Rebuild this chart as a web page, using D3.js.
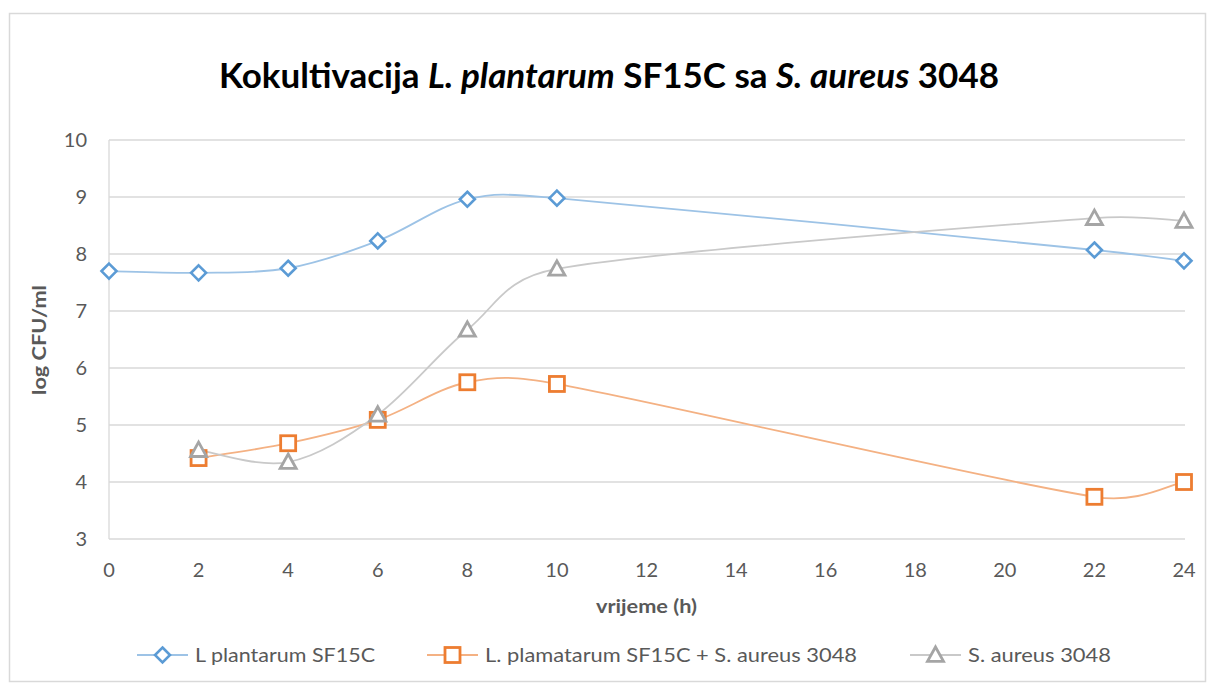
<!DOCTYPE html>
<html><head><meta charset="utf-8">
<script src="https://cdn.jsdelivr.net/npm/d3@7"></script>
<style>body{margin:0;background:#fff;font-family:Lato,"Open Sans",sans-serif;}</style>
</head><body><svg id="c" width="1215" height="687"></svg>
<script>
const hours = [0, 2, 4, 6, 8, 10, 22, 24];
const plantarum = [7.70, 7.67, 7.75, 8.23, 8.96, 8.98, 8.07, 7.88];
const mixed = [null, 4.42, 4.68, 5.09, 5.75, 5.72, 3.74, 4.00];
const aureus = [null, 4.56, 4.35, 5.18, 6.67, 7.74, 8.63, 8.58];
const xTicks = [0,2,4,6,8,10,12,14,16,18,20,22,24];
const yTicks = [3,4,5,6,7,8,9,10];
const seriesNames = ["L plantarum SF15C", "L. plamatarum SF15C + S. aureus 3048", "S. aureus 3048"];

const svg = d3.select("#c");
svg.append("rect").attr("x",9.5).attr("y",13.5).attr("width",1196).attr("height",668)
  .attr("fill","#fff").attr("stroke","#d9d9d9").attr("stroke-width",1.5);

const x = d3.scaleLinear().domain([0,24]).range([109,1184]);
const y = d3.scaleLinear().domain([3,10]).range([539,140]);

// grid
const g = svg.append("g");
g.selectAll("line.grid").data(yTicks).join("line")
  .attr("x1",109).attr("x2",1185).attr("y1",d=>y(d)).attr("y2",d=>y(d))
  .attr("stroke","#d9d9d9").attr("stroke-width",1.3);
g.append("line").attr("x1",109).attr("x2",109).attr("y1",140).attr("y2",539).attr("stroke","#d9d9d9").attr("stroke-width",1.3);

const tickFont = 20;
svg.selectAll("text.yt").data(yTicks).join("text")
  .attr("x",87).attr("y",d=>y(d)+7).attr("text-anchor","end")
  .attr("font-size",tickFont).attr("fill","#595959").text(d=>d);
svg.selectAll("text.xt").data(xTicks).join("text")
  .attr("x",d=>x(d)).attr("y",577).attr("text-anchor","middle")
  .attr("font-size",tickFont).attr("fill","#595959").text(d=>d);

// titles
const t = svg.append("text").attr("x",219).attr("y",88)
  .attr("font-size",34).attr("font-weight","bold").attr("fill","#000")
  .attr("textLength",780).attr("lengthAdjust","spacingAndGlyphs");
t.append("tspan").text("Kokultivacija ");
t.append("tspan").attr("font-style","italic").text("L. plantarum");
t.append("tspan").text(" SF15C sa ");
t.append("tspan").attr("font-style","italic").text("S. aureus");
t.append("tspan").text(" 3048");

svg.append("text").attr("x",596).attr("y",613)
  .attr("font-size",19).attr("font-weight","bold").attr("fill","#595959")
  .attr("textLength",101).attr("lengthAdjust","spacingAndGlyphs").text("vrijeme (h)");
svg.append("text").attr("transform","translate(46,395) rotate(-90)")
  .attr("font-size",19).attr("font-weight","bold").attr("fill","#595959")
  .attr("textLength",110).attr("lengthAdjust","spacingAndGlyphs").text("log CFU/ml");

const series = [
  {name:seriesNames[0], vals:plantarum, line:"#9dc3e6", mark:"#5b9bd5", sym:"diamond"},
  {name:seriesNames[1], vals:mixed, line:"#f4b183", mark:"#ed7d31", sym:"square"},
  {name:seriesNames[2], vals:aureus, line:"#c9c9c9", mark:"#a5a5a5", sym:"triangle"}
];

function marker(sel, sym, color, cx, cy){
  if(sym==="diamond"){
    const r=7.5;
    sel.append("path").attr("d",`M${cx},${cy-r}L${cx+r},${cy}L${cx},${cy+r}L${cx-r},${cy}Z`)
      .attr("fill","#fff").attr("stroke",color).attr("stroke-width",2.6);
  } else if(sym==="square"){
    const r=7.5;
    sel.append("rect").attr("x",cx-r).attr("y",cy-r).attr("width",2*r).attr("height",2*r)
      .attr("fill","#fff").attr("stroke",color).attr("stroke-width",2.8);
  } else {
    const r=8;
    sel.append("path").attr("d",`M${cx},${cy-r}L${cx+r},${cy+r*0.8}L${cx-r},${cy+r*0.8}Z`)
      .attr("fill","#fff").attr("stroke",color).attr("stroke-width",2.8);
  }
}

// Excel-like smoothing: Catmull-Rom tangents with arm length clamped to segment length
function smoothPath(P){
  const p = d3.path();
  p.moveTo(P[0][0],P[0][1]);
  const n = P.length;
  const tan = P.map((pt,i)=>{
    const a = P[Math.max(0,i-1)], b = P[Math.min(n-1,i+1)];
    return [(b[0]-a[0])/6,(b[1]-a[1])/6];
  });
  const K = 0.5;
  function arm(T,L){ const m=Math.hypot(T[0],T[1]); const s = m>K*L? K*L/m : 1; return [T[0]*s,T[1]*s]; }
  for(let i=0;i<n-1;i++){
    const A=P[i], B=P[i+1];
    const L=Math.hypot(B[0]-A[0],B[1]-A[1]);
    const a1=arm(tan[i],L), a2=arm(tan[i+1],L);
    p.bezierCurveTo(A[0]+a1[0],A[1]+a1[1],B[0]-a2[0],B[1]-a2[1],B[0],B[1]);
  }
  return p.toString();
}

series.forEach(s=>{
  const pts = hours.map((h,i)=>[h,s.vals[i]]).filter(d=>d[1]!==null).map(d=>[x(d[0]),y(d[1])]);
  svg.append("path").attr("d",smoothPath(pts)).attr("fill","none").attr("stroke",s.line).attr("stroke-width",1.8);
});
series.forEach(s=>{
  const gg = svg.append("g");
  hours.forEach((h,i)=>{ if(s.vals[i]!==null) marker(gg,s.sym,s.mark,x(h),y(s.vals[i])); });
});

// legend
const legX = [137, 427, 910];
const legW = [180, 372, 143];
series.forEach((s,i)=>{
  const lg = svg.append("g");
  lg.append("line").attr("x1",legX[i]).attr("x2",legX[i]+51).attr("y1",655).attr("y2",655)
    .attr("stroke",s.line).attr("stroke-width",1.8);
  marker(lg,s.sym,s.mark,legX[i]+25.5,655);
  lg.append("text").attr("x",legX[i]+58).attr("y",662).attr("font-size",20).attr("fill","#595959")
    .attr("textLength",legW[i]).attr("lengthAdjust","spacingAndGlyphs").text(s.name);
});
</script></body></html>
